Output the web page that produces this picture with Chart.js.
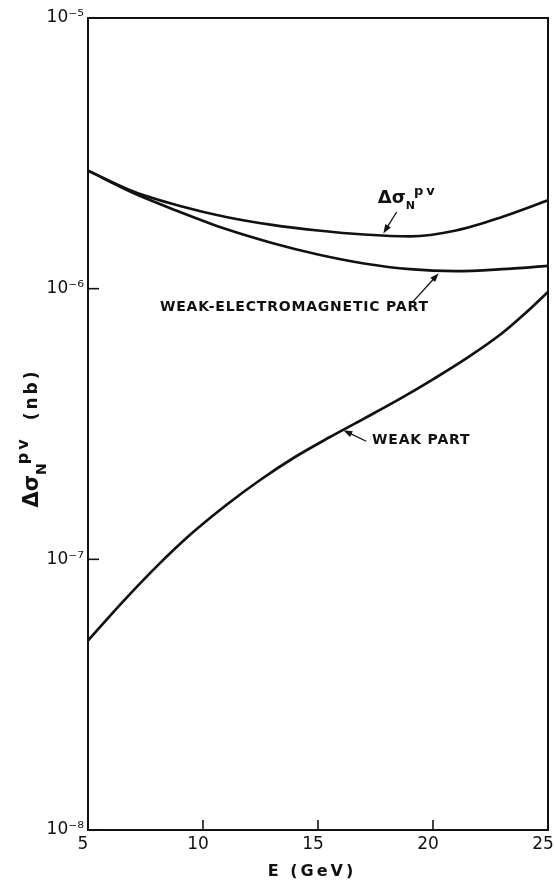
<!DOCTYPE html>
<html>
<head>
<meta charset="utf-8">
<script src="https://cdn.jsdelivr.net/npm/chart.js@4.4.1/dist/chart.umd.min.js"></script>
<style>
    html, body { margin: 0; padding: 0; background: #fff; }
    #caixa { width: 555px; height: 882px; }
</style>
</head>
<body>
<div id="caixa"><canvas id="grafico" width="555" height="882"></canvas></div>
<script>
// Dados (E em GeV, secao de choque em nb)
const energias = [5, 7, 9, 11, 13, 15, 17, 19, 21, 23, 25];
const totalPV = [2.73e-6, 2.28e-6, 2.02e-6, 1.84e-6, 1.72e-6, 1.64e-6, 1.585e-6, 1.56e-6, 1.64e-6, 1.84e-6, 2.12e-6];
const parteFracaEM = [2.73e-6, 2.25e-6, 1.92e-6, 1.66e-6, 1.475e-6, 1.337e-6, 1.239e-6, 1.18e-6, 1.161e-6, 1.18e-6, 1.213e-6];

const energiasFraca = [5, 6.5, 8, 9.5, 11, 12.5, 14, 15.5, 17, 18.5, 20, 21.5, 23, 24, 25];
const parteFraca = [5.01e-8, 6.95e-8, 9.44e-8, 1.245e-7, 1.585e-7, 1.968e-7, 2.388e-7, 2.825e-7, 3.311e-7, 3.89e-7, 4.624e-7, 5.559e-7, 6.84e-7, 8.09e-7, 9.72e-7];

const ticksX = [5, 10, 15, 20, 25];
const ticksY = [1e-8, 1e-7, 1e-6, 1e-5];

// Rotulos dentro do grafico (posicoes em unidades dos eixos)
const rotulos = [
    { texto: 'WEAK-ELECTROMAGNETIC PART', e: 8.13, v: 8.5e-7, seta: [19.1, 8.9e-7, 20.25, 1.14e-6] },
    { texto: 'WEAK PART', e: 17.35, v: 2.76e-7, seta: [17.1, 2.73e-7, 16.1, 3.0e-7] }
];

const SUPER = { '-': '\u207B', '0': '\u2070', '1': '\u00B9', '2': '\u00B2', '3': '\u00B3', '4': '\u2074',
    '5': '\u2075', '6': '\u2076', '7': '\u2077', '8': '\u2078', '9': '\u2079' };

function potencia(v) {
    const exp = String(Math.round(Math.log10(v)));
    return '10' + exp.split('').map(c => SUPER[c]).join('');
}

const pontos = (xs, ys) => xs.map((e, i) => ({ x: e, y: ys[i] }));

// Escreve texto com partes em indice / expoente
function textoComposto(ctx, partes, x, y) {
    let px = x;
    partes.forEach(p => {
        ctx.font = p.fonte;
        ctx.letterSpacing = p.espaco || '0px';
        ctx.fillText(p.t, px, y + (p.dy || 0));
        px += ctx.measureText(p.t).width + (p.depois || 0);
    });
    ctx.letterSpacing = '0px';
    return px - x;
}

function larguraComposta(ctx, partes) {
    let w = 0;
    partes.forEach(p => {
        ctx.font = p.fonte;
        ctx.letterSpacing = p.espaco || '0px';
        w += ctx.measureText(p.t).width + (p.depois || 0);
    });
    ctx.letterSpacing = '0px';
    return w;
}

function seta(ctx, x0, y0, x1, y1) {
    const ang = Math.atan2(y1 - y0, x1 - x0);
    ctx.beginPath();
    ctx.moveTo(x0, y0);
    ctx.lineTo(x1 - 5 * Math.cos(ang), y1 - 5 * Math.sin(ang));
    ctx.stroke();
    ctx.beginPath();
    ctx.moveTo(x1, y1);
    ctx.lineTo(x1 - 9 * Math.cos(ang) + 3.2 * Math.sin(ang), y1 - 9 * Math.sin(ang) - 3.2 * Math.cos(ang));
    ctx.lineTo(x1 - 9 * Math.cos(ang) - 3.2 * Math.sin(ang), y1 - 9 * Math.sin(ang) + 3.2 * Math.cos(ang));
    ctx.closePath();
    ctx.fill();
}

const desenhoExtra = {
    id: 'desenhoExtra',
    afterDatasetsDraw(chart) {
        const { ctx, chartArea: a, scales: { x, y } } = chart;
        ctx.save();
        ctx.strokeStyle = '#111';
        ctx.fillStyle = '#111';

        // moldura
        ctx.lineWidth = 2;
        ctx.strokeRect(a.left, a.top, a.right - a.left, a.bottom - a.top);

        // marcas para dentro
        ctx.lineWidth = 1.6;
        ticksX.forEach(v => {
            const px = x.getPixelForValue(v);
            ctx.beginPath(); ctx.moveTo(px, a.bottom); ctx.lineTo(px, a.bottom - 10); ctx.stroke();
        });
        ticksY.forEach(v => {
            const py = y.getPixelForValue(v);
            ctx.beginPath(); ctx.moveTo(a.left, py); ctx.lineTo(a.left + 11, py); ctx.stroke();
        });

        // rotulos das curvas
        ctx.textBaseline = 'middle';
        ctx.textAlign = 'left';
        ctx.lineWidth = 1.3;
        rotulos.forEach(r => {
            ctx.font = 'bold 14px "DejaVu Sans"';
            ctx.letterSpacing = '0.8px';
            ctx.fillText(r.texto, x.getPixelForValue(r.e), y.getPixelForValue(r.v));
            ctx.letterSpacing = '0px';
            const s = r.seta;
            seta(ctx, x.getPixelForValue(s[0]), y.getPixelForValue(s[1]), x.getPixelForValue(s[2]), y.getPixelForValue(s[3]));
        });

        // rotulo da curva total
        textoComposto(ctx, [
            { t: '\u0394\u03C3', fonte: 'bold 18px "DejaVu Sans"' },
            { t: 'N', fonte: 'bold 11px "DejaVu Sans"', dy: 8, depois: -1 },
            { t: 'pv', fonte: 'bold 13px "DejaVu Sans"', dy: -7, espaco: '3px' }
        ], x.getPixelForValue(17.6), y.getPixelForValue(2.16e-6));
        seta(ctx, x.getPixelForValue(18.42), y.getPixelForValue(1.92e-6), x.getPixelForValue(17.84), y.getPixelForValue(1.6e-6));

        // titulo do eixo x
        ctx.textAlign = 'center';
        ctx.font = 'bold 16px "DejaVu Sans"';
        ctx.letterSpacing = '3px';
        ctx.fillText('E (GeV)', (a.left + a.right) / 2 - 6, 872);
        ctx.letterSpacing = '0px';

        // titulo do eixo y (girado)
        const partesY = [
            { t: '\u0394\u03C3', fonte: 'bold 21px "DejaVu Sans"' },
            { t: 'N', fonte: 'bold 14px "DejaVu Sans"', dy: 9, depois: -1 },
            { t: 'pv', fonte: 'bold 16px "DejaVu Sans"', dy: -9, espaco: '3px', depois: 16 },
            { t: '(nb)', fonte: 'bold 17px "DejaVu Sans"', espaco: '3px' }
        ];
        ctx.textAlign = 'left';
        ctx.translate(33, (a.top + a.bottom) / 2 + 14);
        ctx.rotate(-Math.PI / 2);
        const w = larguraComposta(ctx, partesY);
        textoComposto(ctx, partesY, -w / 2, 0);
        ctx.restore();
    }
};

document.addEventListener('DOMContentLoaded', function() {
    const ctx = document.getElementById('grafico').getContext('2d');
    const estiloCurva = {
        borderColor: '#111',
        borderWidth: 2.7,
        pointRadius: 0,
        fill: false,
        cubicInterpolationMode: 'monotone'
    };

    new Chart(ctx, {
        type: 'line',
        data: {
            datasets: [
                Object.assign({ label: 'total', data: pontos(energias, totalPV) }, estiloCurva),
                Object.assign({ label: 'weak-electromagnetic', data: pontos(energias, parteFracaEM) }, estiloCurva),
                Object.assign({ label: 'weak', data: pontos(energiasFraca, parteFraca) }, estiloCurva)
            ]
        },
        options: {
            responsive: false,
            animation: false,
            layout: { padding: { top: 18, right: 7, left: 0, bottom: 0 } },
            plugins: {
                legend: { display: false },
                tooltip: { enabled: false }
            },
            scales: {
                x: {
                    type: 'linear',
                    min: 5,
                    max: 25,
                    afterBuildTicks: s => { s.ticks = ticksX.map(v => ({ value: v })); },
                    afterFit: s => { s.height = 52; s.paddingLeft = 0; s.paddingRight = 0; },
                    grid: { display: false, drawTicks: false },
                    border: { display: false },
                    ticks: {
                        color: '#111',
                        font: { family: 'DejaVu Sans', size: 17 },
                        padding: 4,
                        labelOffset: -5,
                        maxRotation: 0,
                        autoSkip: false
                    }
                },
                y: {
                    type: 'logarithmic',
                    min: 1e-8,
                    max: 1e-5,
                    afterBuildTicks: s => { s.ticks = ticksY.map(v => ({ value: v })); },
                    afterFit: s => { s.width = 88; s.paddingTop = 0; s.paddingBottom = 0; },
                    grid: { display: false, drawTicks: false },
                    border: { display: false },
                    ticks: {
                        color: '#111',
                        font: { family: 'DejaVu Sans', size: 17 },
                        padding: 4,
                        autoSkip: false,
                        callback: v => potencia(v)
                    }
                }
            }
        },
        plugins: [desenhoExtra]
    });
});
</script>
</body>
</html>
